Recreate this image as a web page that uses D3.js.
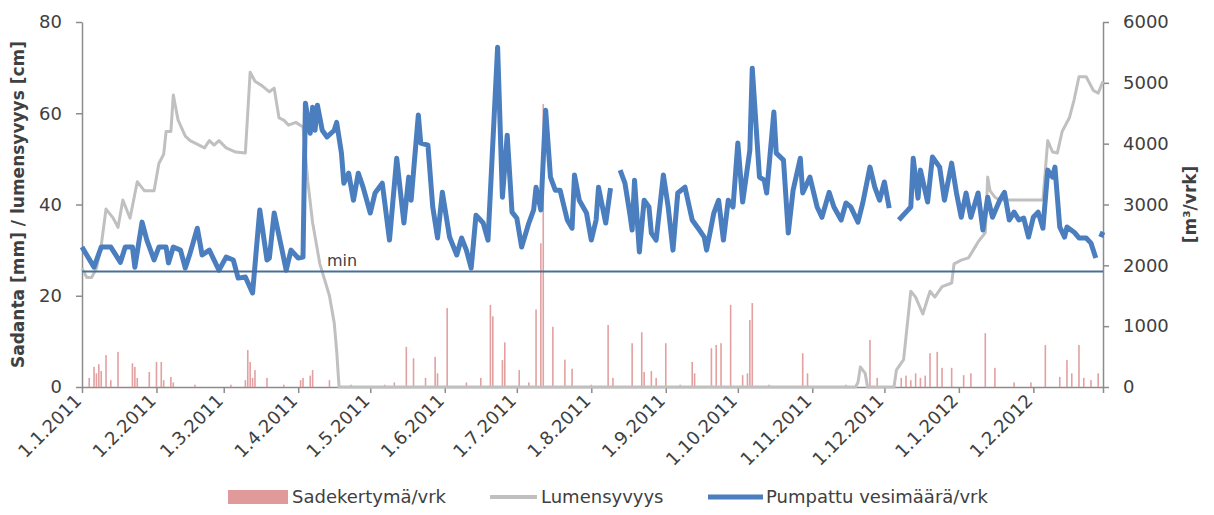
<!DOCTYPE html>
<html>
<head>
<meta charset="utf-8">
<script src="https://cdn.jsdelivr.net/npm/d3@7"></script>
<style>
  body { margin: 0; background: #fff; }
  text { font-family: "DejaVu Sans", sans-serif; fill: #404040; }
</style>
</head>
<body>
<svg id="chart" width="1214" height="515"></svg>
<script>
// month ticks on the date axis
const tickLabels = ["1.1.2011", "1.2.2011", "1.3.2011", "1.4.2011", "1.5.2011", "1.6.2011", "1.7.2011",
  "1.8.2011", "1.9.2011", "1.10.2011", "1.11.2011", "1.12.2011", "1.1.2012", "1.2.2012"];
const leftTicks = [0, 20, 40, 60, 80];
const rightTicks = [0, 1000, 2000, 3000, 4000, 5000, 6000];

// days counted from 1.1.2011
const pumpDay = [0,5,8,12,16,18,21,22,25,27, 30,32,35,36,38,41,43,45,48,50, 53,57,60,63,65,68,71,74,77,78,
  80,83,85,87,90,92,93,95,96,97, 98,100,102,105,106,108,109,111,113,115, 117,120,122,125,128,131,134,136,137,140,
  141,144,146,148,150,153,156,158,160,162, 164,167,169,173,175,177,179,181,183,186, 188,189,191,193,195,197,199,202,204,205,
  207,210,212,214,215,218,220,222,224,226, 228,229,230,232,234,236,237,239,242,244, 246,248,251,254,257,259,260,263,265,267,
  269,271,273,275,278,279,282,284,285,288, 289,292,294,296,299,300,303,306,308,311, 313,316,318,320,323,325,328,330,332,334,
  336,338,340,343,345,346,348,349,352,354, 357,359,362,364,366,368,370,373,375,377, 379,382,384,386,388,390,392,394,396,398,
  400,402,404,405,407,409,410,413,415,418, 420,422,423,424,425];
// pumped water m3/day (null = no data)
const pumpM3 = [2300,1970,2300,2300,2050,2300,2300,1970,2710,2415, 2090,2300,2300,2040,2300,2250,1955,2200,2610,2170,
  2250,1920,2135,2087,1790,1807,1545,2910,2087,2120, 2860,2300,1920,2250,2120,2135,4665,4170,4600,4220,
  4630,4220,4110,4220,4350,3845,3350,3515,3070,3515, 3285,2860,3190,3350,2415,3760,2695,3450,3070,4470,
  4010,3975,2960,2450,3200,2465,2170,2450,2250,1955, 2825,2695,2415,5585,3120,4140,2875,2775,2300,2695,
  2910,3285,2910,4550,3450,3235,3235,2745,2610,3485, 3070,2860,2415,2745,3285,2695,3270,null,3565,3350,
  2860,2580,3400,2220,3070,2960,2530,2415,3485,2960, 2250,3190,3285,2745,2580,2465,2250,2860,3070,2415,
  3070,2960,4010,3040,3895,5240,3450,3400,3190,4520, 3845,3730,2530,3235,3760,3190,3450,2960,2790,3200,
  2960,2745,3025,2960,2710,3025,3615,3285,3070,3370, 2940,null,2745,2875,2960,3760,3105,3565,3040,3780,
  3615,3070,3680,3190,2790,3190,2790,3190,2580,3120, 2790,3070,3200,2745,2875,2745,2775,2465,2790,2875,
  2610,3565,3450,3615,2630,2465,2630,2545,2450,2450, 2365,2120,null,2465,2550];

// snow depth cm
const snowDay = [0,2,4,6,8,10,13,15,17,20, 23,26,30,32,34,35,37,38,40,43, 45,51,53,55,57,60,64,68,70,72,
  75,78,80,82,84,86,89,92,94,96, 99,103,105,106,107,322,323,324,326,327, 338,339,342,343,345,347,350,353,355,358,
  362,363,366,369,371,373,376,377,378,380, 382,400,402,404,406,408,411,413,415,418, 421,423,425];
const snowCm = [26,24,24,26,31,39,37,35,41,37, 45,43,43,49,51,56,56,64,58.5,55, 54,52.4,54,53,54,52.4,51.5,51.3,69,67,
  66,64.7,65.5,59,58.5,57.4,58,57,45,36, 27,20,14,8,0,0,1,4.4,3,0, 0,3.7,6,11,21,19.7,16,21,19.7,22,
  22.8,27,27.8,28.3,30,31.8,33.8,46,43,41.6, 41,41,54,51.5,51.3,56,59,63,68,68, 65,64.4,67];

// daily precipitation mm
const rainDay = [3,5,6,7,8,10,12,15,21,22, 23,28,31,33,34,37,38,47,62,68, 69,70,71,72,77,84,91,92,95,96,
  103,112,126,130,135,138,143,147,148,152, 160,166,170,171,175,176,182,186,189,191, 192,196,201,204,212,219,221,229,233,234,
  237,239,243,249,254,255,262,264,266,270, 275,277,278,279,286,300,302,318,328,331, 341,343,345,347,349,351,353,356,358,362,
  367,370,376,380,388,395,401,407,410,412, 415,417,420,423];
const rainMm = [2,4.4,3,5,3.5,7,1.5,7.7,5.2,4.4, 2,3.3,5.5,5.5,1.5,2.2,1,0.5,0.5,1.5, 8.1,5.5,2,3.7,2,0.5,1.5,2,2.5,3.7,
  1.5,0.5,0.5,1,8.8,6.3,2,6.6,3,17.3, 1,2,18,15.5,5.9,9.8,3.7,1,17,31.5, 62,13.2,6,4,0.5,13.6,2,9.6,12,3.3,
  3.5,2,9.6,0.5,5.5,3,8.5,9.2,9.6,18, 2.6,3,14.7,18.4,0.5,7.4,3,0.5,10.3,2, 2,2.5,1.5,3,2,2.5,7.4,7.7,4.2,4.2,
  2.6,3,11.8,4.2,1,1,9.2,2.2,5.9,3, 9.2,2,1.5,3];

const minPump = 1900;

const start = new Date(Date.UTC(2011, 0, 1));
const end = new Date(Date.UTC(2012, 2, 1));
const dayDate = d => d3.utcDay.offset(start, d);
const parseTick = s => { const p = s.split('.').map(Number); return new Date(Date.UTC(p[2], p[1] - 1, p[0])); };

const svg = d3.select('#chart');
const m = { left: 82, right: 1103, top: 22, bottom: 387 };

const x = d3.scaleUtc().domain([start, end]).range([m.left, m.right]);
const yL = d3.scaleLinear().domain([0, 80]).range([m.bottom, m.top]);
const yR = d3.scaleLinear().domain([0, 6000]).range([m.bottom, m.top]);

// axes
const styleAxis = g => {
  g.select('.domain').attr('stroke', '#8c8c8c').attr('stroke-width', 1.5);
  g.selectAll('.tick line').attr('stroke', '#8c8c8c').attr('stroke-width', 1.5);
  g.selectAll('.tick text').style('font-size', '18px').attr('fill', '#404040');
};

svg.append('g')
  .attr('transform', `translate(${m.left},0)`)
  .call(d3.axisLeft(yL).tickValues(leftTicks).tickSize(6).tickSizeOuter(0).tickPadding(14))
  .call(styleAxis);

svg.append('g')
  .attr('transform', `translate(${m.right},0)`)
  .call(d3.axisRight(yR).tickValues(rightTicks).tickFormat(d3.format('d')).tickSize(6).tickSizeOuter(0).tickPadding(14))
  .call(styleAxis);

const tickDates = tickLabels.map(parseTick);
const xAxis = svg.append('g')
  .attr('transform', `translate(0,${m.bottom})`)
  .call(d3.axisBottom(x).tickValues(tickDates.concat([end])).tickSize(6).tickSizeOuter(0)
    .tickFormat((d, i) => tickLabels[i] || ''))
  .call(styleAxis);
xAxis.selectAll('.tick text')
  .attr('text-anchor', 'end')
  .attr('y', 0).attr('dy', 0)
  .attr('transform', 'translate(0,15) rotate(-45)');

// rain bars
const rain = rainDay.map((d, i) => ({ date: dayDate(d), v: rainMm[i] }));
svg.append('g').selectAll('rect')
  .data(rain)
  .join('rect')
  .attr('x', d => x(d.date) - 0.8)
  .attr('width', 1.6)
  .attr('y', d => yL(d.v))
  .attr('height', d => yL(0) - yL(d.v))
  .attr('fill', '#e3a0a0');

// snow depth
const snow = snowDay.map((d, i) => ({ date: dayDate(d), v: snowCm[i] }));
svg.append('path')
  .datum(snow)
  .attr('fill', 'none')
  .attr('stroke', '#c0c0c0')
  .attr('stroke-width', 3)
  .attr('stroke-linejoin', 'round')
  .attr('d', d3.line().x(d => x(d.date)).y(d => yL(d.v)));

// pumped water
const pump = pumpDay.map((d, i) => ({ date: dayDate(d), v: pumpM3[i] }));
svg.append('path')
  .datum(pump)
  .attr('fill', 'none')
  .attr('stroke', '#4a7ebf')
  .attr('stroke-width', 5)
  .attr('stroke-linejoin', 'round')
  .attr('d', d3.line().defined(d => d.v != null).x(d => x(d.date)).y(d => yR(d.v)));

// min level
svg.append('line')
  .attr('x1', m.left).attr('x2', m.right)
  .attr('y1', yR(minPump)).attr('y2', yR(minPump))
  .attr('stroke', '#4b6e98').attr('stroke-width', 2);
svg.append('text')
  .attr('x', 327).attr('y', yR(minPump) - 5)
  .style('font-size', '16px')
  .text('min');

// axis titles
svg.append('text')
  .attr('transform', `translate(24,${(m.top + m.bottom) / 2}) rotate(-90)`)
  .attr('text-anchor', 'middle')
  .style('font-size', '17px').style('font-weight', 'bold').attr('fill', '#262626')
  .text('Sadanta [mm] / lumensyvyys [cm]');
svg.append('text')
  .attr('transform', `translate(1196,${(m.top + m.bottom) / 2}) rotate(-90)`)
  .attr('text-anchor', 'middle')
  .style('font-size', '17px').style('font-weight', 'bold').attr('fill', '#262626')
  .text('[m³/vrk]');

// legend
const lg = svg.append('g').attr('transform', 'translate(0,497)');
lg.append('rect').attr('x', 228).attr('y', -7).attr('width', 60).attr('height', 14).attr('fill', '#e09a9a');
lg.append('text').attr('x', 292).attr('y', 6).style('font-size', '18px').text('Sadekertymä/vrk');
lg.append('line').attr('x1', 490).attr('x2', 537).attr('stroke', '#c0c0c0').attr('stroke-width', 4);
lg.append('text').attr('x', 541).attr('y', 6).style('font-size', '18px').text('Lumensyvyys');
lg.append('line').attr('x1', 708).attr('x2', 763).attr('stroke', '#4a7ebf').attr('stroke-width', 5);
lg.append('text').attr('x', 766).attr('y', 6).style('font-size', '18px').text('Pumpattu vesimäärä/vrk');
</script>
</body>
</html>
